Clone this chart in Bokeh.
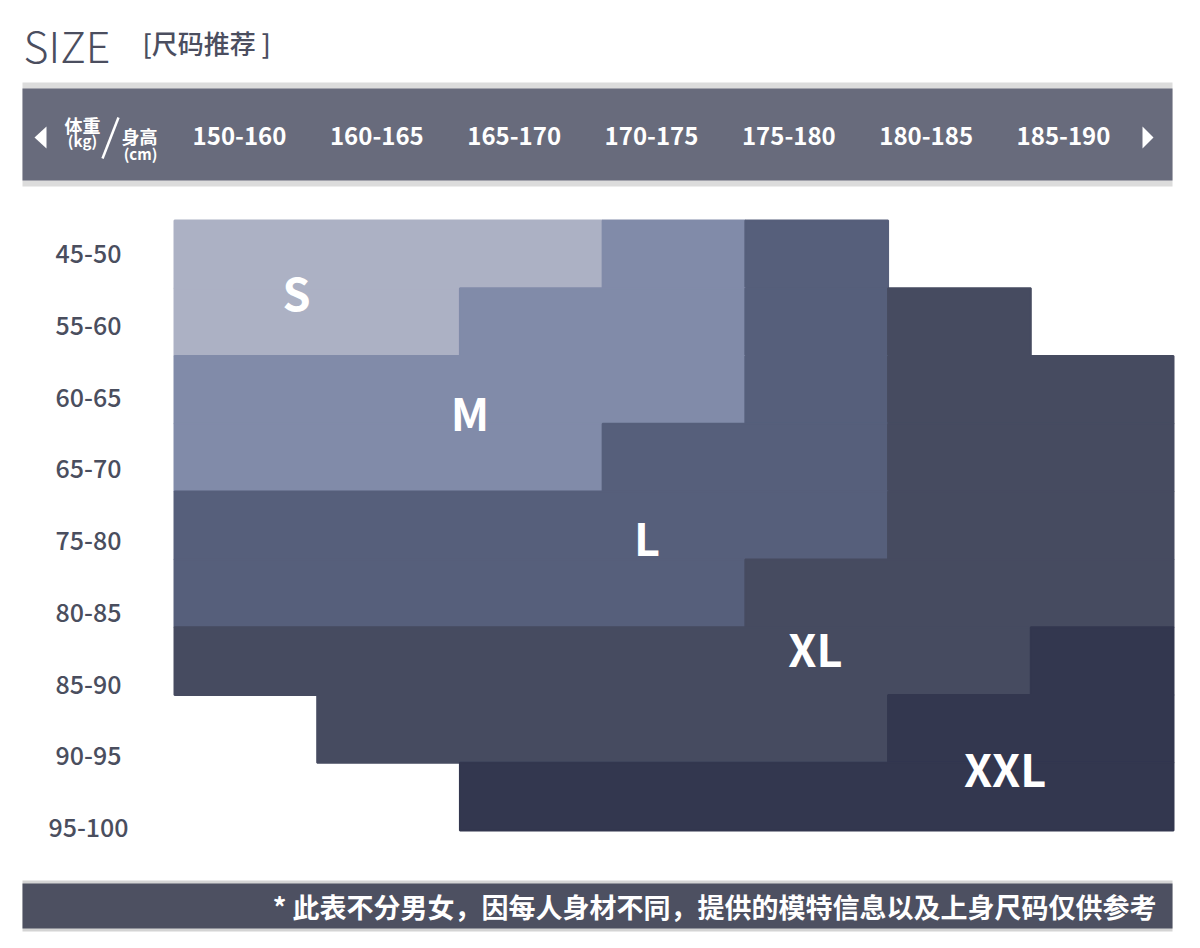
from bokeh.plotting import figure
from bokeh.models import Range1d
from bokeh.core.properties import value
from bokeh.embed import file_html
from bokeh.resources import INLINE

# ---------------- data ----------------
heights = ["150-160", "160-165", "165-170", "170-175", "175-180", "180-185", "185-190"]
weights = ["45-50", "55-60", "60-65", "65-70", "75-80", "80-85", "85-90", "90-95", "95-100"]
sizes = ["S", "M", "L", "XL", "XXL"]
size_colors = ["#acb1c4", "#818ba9", "#565f7b", "#464b60", "#33374f"]
# size recommended per weight row (top to bottom) and height column (left to right)
grid = [
    ["S", "S", "S", "M", "L", "", ""],
    ["S", "S", "M", "M", "L", "XL", ""],
    ["M", "M", "M", "M", "L", "XL", "XL"],
    ["M", "M", "M", "L", "L", "XL", "XL"],
    ["L", "L", "L", "L", "L", "XL", "XL"],
    ["L", "L", "L", "L", "XL", "XL", "XL"],
    ["XL", "XL", "XL", "XL", "XL", "XL", "XXL"],
    ["", "XL", "XL", "XL", "XL", "XXL", "XXL"],
    ["", "", "XXL", "XXL", "XXL", "XXL", "XXL"],
]
# label anchor of each size zone, in (column, row) grid units
label_col = [0.855, 2.07, 3.31, 4.49, 5.82]
label_row = [1.045, 2.815, 4.655, 6.305, 8.075]
title = "SIZE"
subtitle = "[尺码推荐 ]"
note = "* 此表不分男女，因每人身材不同，提供的模特信息以及上身尺码仅供参考"

# ---------------- layout (page pixels) ----------------
W, H, M = 1184, 932, 0
X0, X1 = 174, 1173
Y0, Y1 = 220, 830
COLW = (X1 - X0) / len(heights)
ROWH = (Y1 - Y0) / len(weights)


def gx(px):
    return (px - X0) / COLW


def gy(py):
    return (py - Y0) / ROWH


FONT = value("Noto Sans CJK SC")
FONT_MED = value("Noto Sans CJK SC Medium, Noto Sans CJK SC")

p = figure(width=W, height=H, output_backend="svg", toolbar_location=None,
           x_range=Range1d(gx(M), gx(M + W)), y_range=Range1d(gy(M + H), gy(M)),
           x_axis_type=None, y_axis_type=None, min_border=0,
           background_fill_color="white", border_fill_color="white")
p.outline_line_color = None
p.grid.visible = False

# extra ranges for the header (height) labels and the weight labels
HX0, HDX = 239, 137.33
p.extra_x_ranges = {"ht": Range1d((M - HX0) / HDX, (M + W - HX0) / HDX)}
WY0, WDY = 253, 71.75
p.extra_y_ranges = {"wt": Range1d((M + H - WY0) / WDY, (M - WY0) / WDY)}

# ---------------- title ----------------
p.text(x=[gx(23)], y=[gy(43)], text=[title],
       text_font=value("Noto Sans CJK SC Light, Noto Sans CJK SC"),
       text_font_size="43px", text_color="#4b4e5f", text_baseline="middle",
       text_align="left")
p.text(x=[gx(142)], y=[gy(42)], text=[subtitle], text_font=FONT_MED,
       text_font_size="26px", text_color="#4b4e5f", text_baseline="middle",
       text_align="left")

# ---------------- header bar ----------------
p.quad(left=[gx(22)], right=[gx(1172)], top=[gy(82)], bottom=[gy(186)],
       fill_color="#dcdcdc", line_color=None)
p.quad(left=[gx(22)], right=[gx(1172)], top=[gy(88)], bottom=[gy(180)],
       fill_color="#686b7c", line_color=None)
p.patches(xs=[[gx(34), gx(46), gx(46)], [gx(1153), gx(1142), gx(1142)]],
          ys=[[gy(137), gy(126), gy(148)], [gy(137), gy(126), gy(148)]],
          fill_color="white", line_color=None)
p.segment(x0=[gx(118)], y0=[gy(117)], x1=[gx(102)], y1=[gy(158)],
          line_color="white", line_width=2.5)
p.text(x=[gx(82), gx(139)], y=[gy(124), gy(135)], text=["体重", "身高"],
       text_font=FONT, text_font_size="18px", text_font_style="bold",
       text_color="white", text_align="center", text_baseline="middle")
p.text(x=[gx(82), gx(140)], y=[gy(140), gy(153)], text=["(kg)", "(cm)"],
       text_font=FONT, text_font_size="15px", text_font_style="bold",
       text_color="white", text_align="center", text_baseline="middle")
p.text(x=list(range(len(heights))), y=[gy(135)] * len(heights), text=heights,
       x_range_name="ht", text_font=FONT, text_font_size="24px",
       text_font_style="bold", text_color="white", text_align="center",
       text_baseline="middle")

# ---------------- weight labels ----------------
p.text(x=[gx(88)] * len(weights), y=list(range(len(weights))), text=weights,
       y_range_name="wt", text_font=FONT_MED, text_font_size="25px",
       text_color="#4a4e5e", text_align="center", text_baseline="middle")

# ---------------- size grid (runs of equal size per row) ----------------
L, R, T, B, C = [], [], [], [], []
for r, row in enumerate(grid):
    c = 0
    while c < len(row):
        s = row[c]
        e = c
        while e + 1 < len(row) and row[e + 1] == s:
            e += 1
        if s:
            L.append(c)
            R.append(e + 1)
            T.append(r)
            B.append(r + 1)
            C.append(size_colors[sizes.index(s)])
        c = e + 1
p.quad(left=L, right=R, top=T, bottom=B, fill_color=C, line_color=C, line_width=2)

p.text(x=label_col, y=label_row, text=sizes, text_font=FONT,
       text_font_size="45px", text_font_style="bold", text_color="white",
       text_align="center", text_baseline="middle")

# ---------------- footer ----------------
p.quad(left=[gx(22)], right=[gx(1172)], top=[gy(880)], bottom=[gy(931)],
       fill_color="#d4d4d4", line_color=None)
p.quad(left=[gx(22)], right=[gx(1172)], top=[gy(883)], bottom=[gy(928)],
       fill_color="#4d5061", line_color=None)
p.text(x=[gx(1156)], y=[gy(906)], text=[note], text_font=FONT,
       text_font_size="27px", text_font_style="bold", text_color="white",
       text_align="right", text_baseline="middle")

open("out.html", "w").write(file_html(p, INLINE))
